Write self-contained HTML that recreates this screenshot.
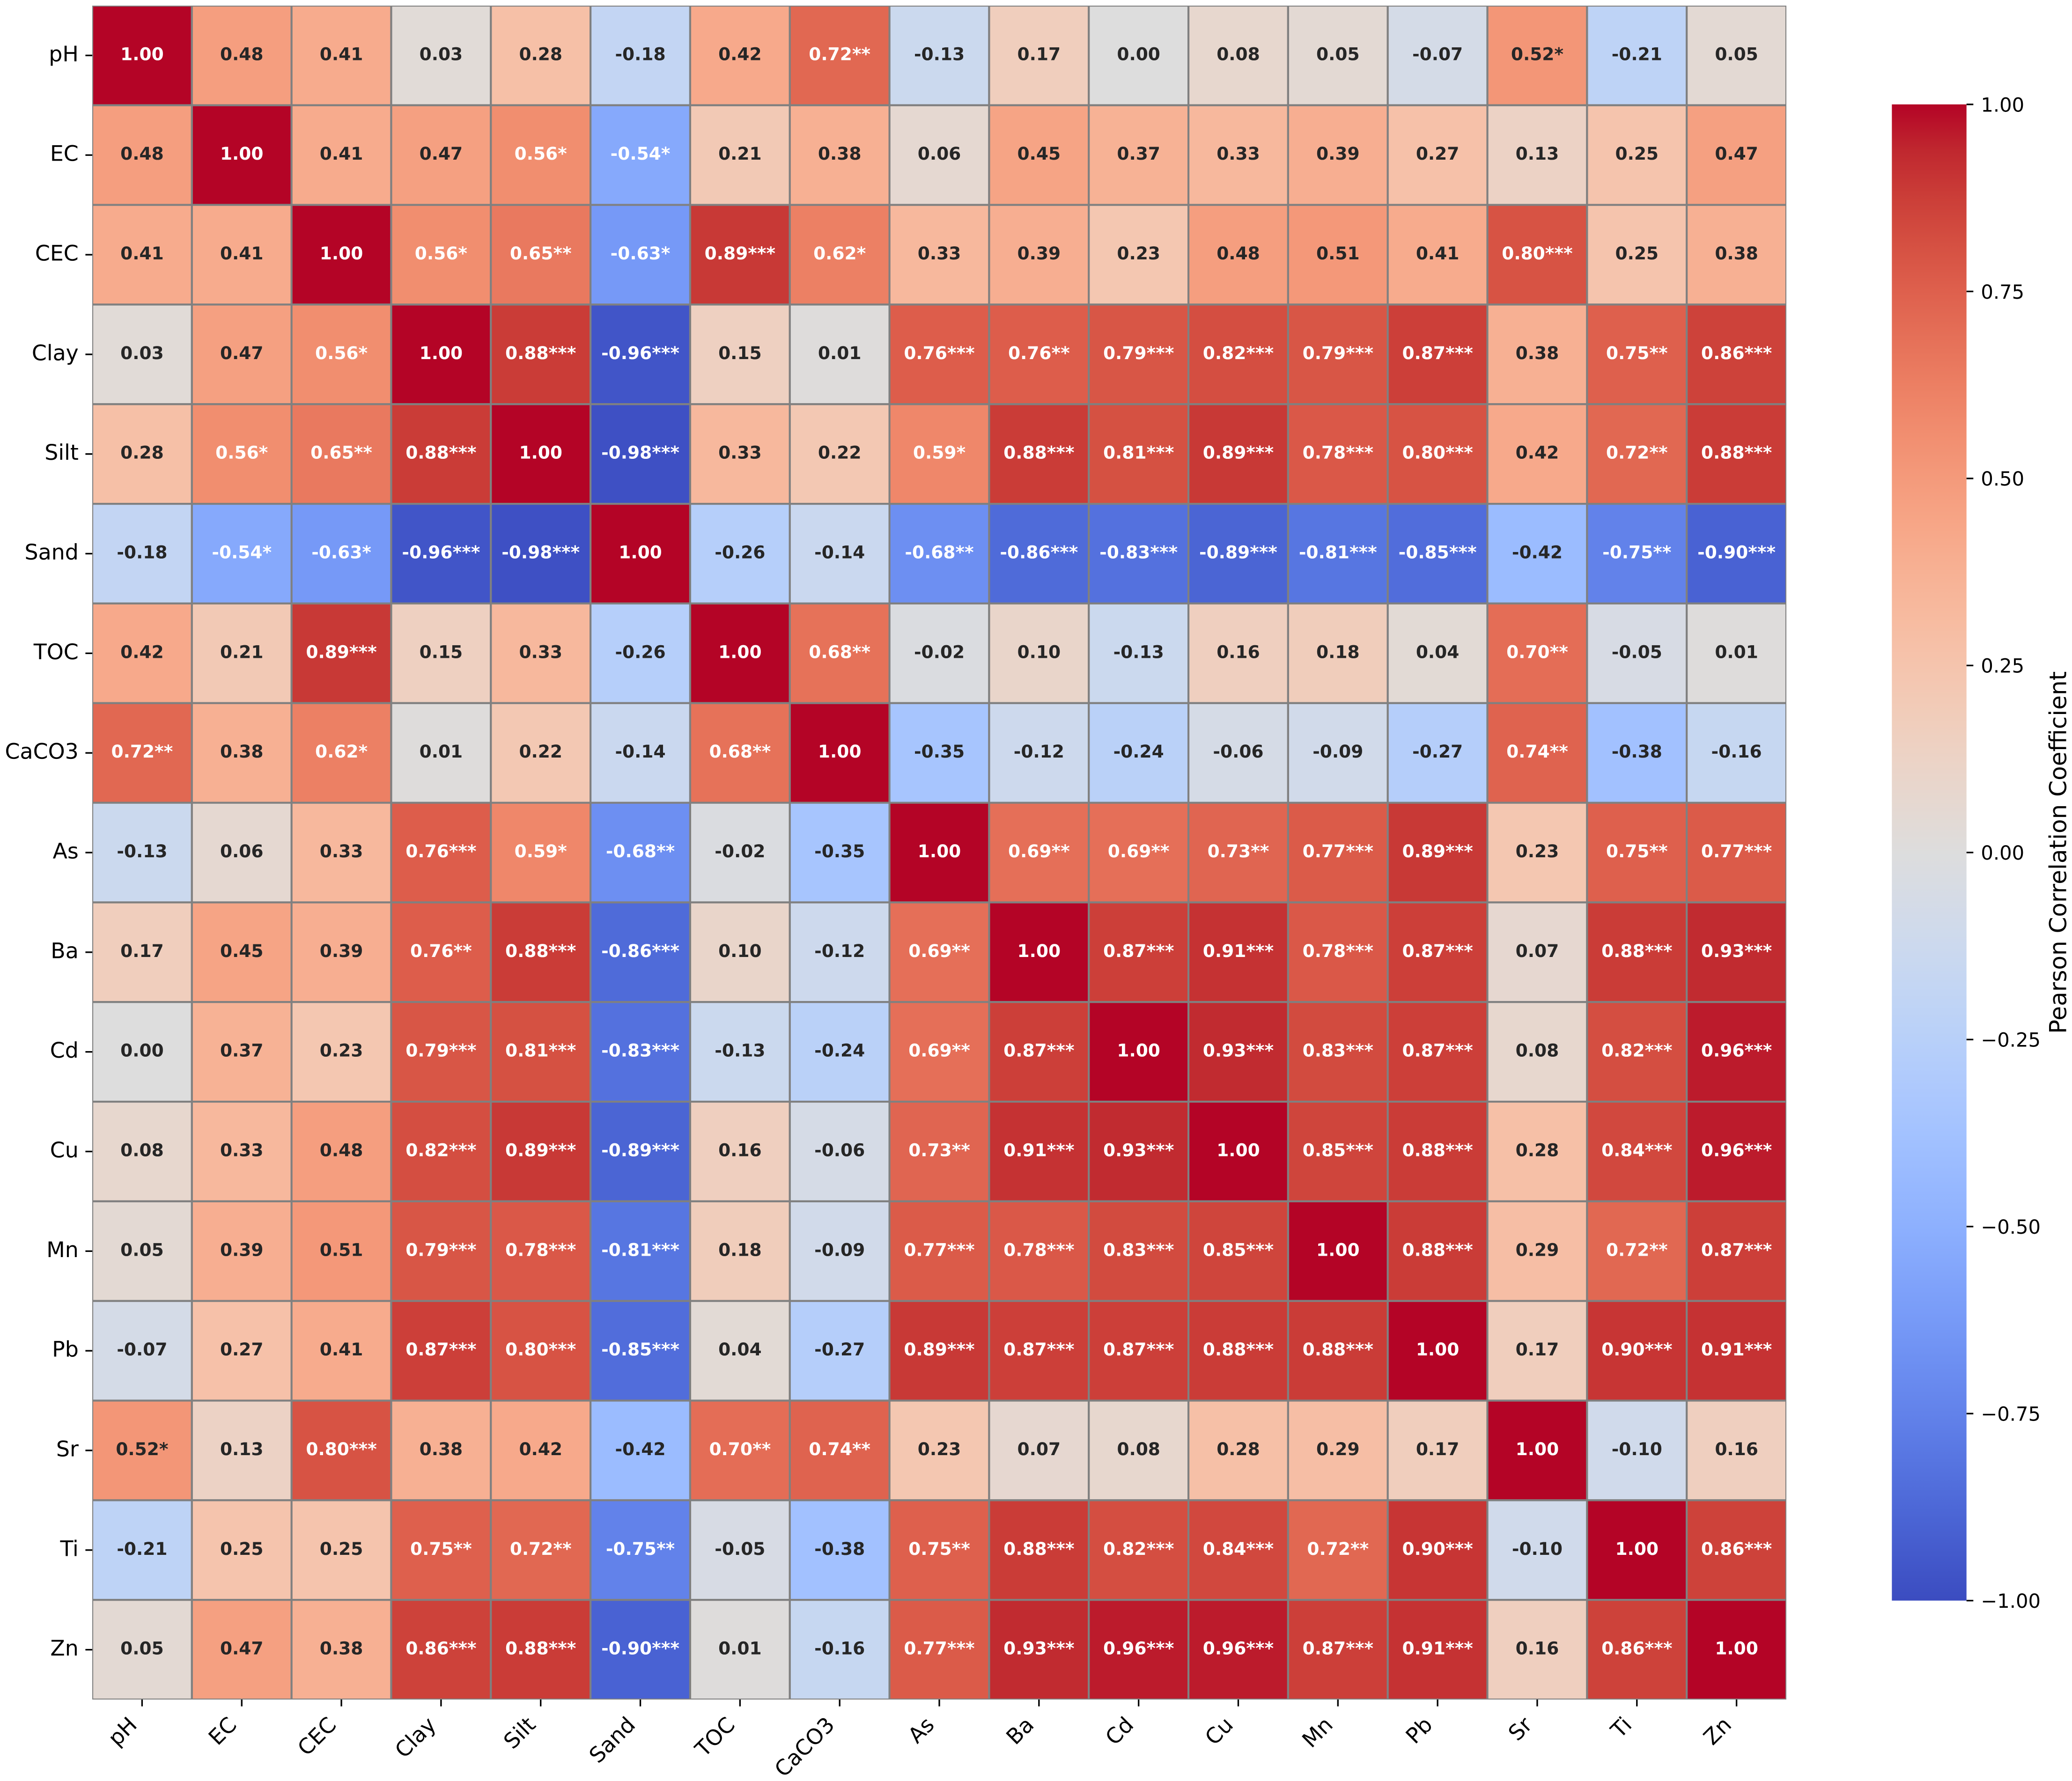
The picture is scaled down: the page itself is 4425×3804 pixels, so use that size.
<!DOCTYPE html>
<html lang="en">
<head>
<meta charset="utf-8">
<title>Pearson correlation heatmap</title>
<style>
html,body{margin:0;padding:0;background:#fff;}
svg{display:block;}
text{font-family:"DejaVu Sans","Liberation Sans",sans-serif;text-rendering:geometricPrecision;}
</style>
</head>
<body>
<svg id="chart" xmlns="http://www.w3.org/2000/svg" width="4425" height="3804" viewBox="0 0 4425 3804">
  <defs>
    <clipPath id="axes-clip"><rect x="197" y="12" width="3618" height="3618"></rect></clipPath>
    <linearGradient id="cbar-gradient" x1="0" y1="1" x2="0" y2="0"></linearGradient>
  </defs>
  <rect x="0" y="0" width="4425" height="3804" fill="#ffffff"></rect>
  <g id="cells" clip-path="url(#axes-clip)"></g>
  <g id="annotations"></g>
  <g id="x-axis"></g>
  <g id="y-axis"></g>
  <g id="colorbar"></g>
</svg>
<script>
// ---------- data ----------
const variables = ["pH","EC","CEC","Clay","Silt","Sand","TOC","CaCO3","As","Ba","Cd","Cu","Mn","Pb","Sr","Ti","Zn"];

const corrPH    = [1.00,0.48,0.41,0.03,0.28,-0.18,0.42,0.72,-0.13,0.17,0.00,0.08,0.05,-0.07,0.52,-0.21,0.05];
const corrEC    = [0.48,1.00,0.41,0.47,0.56,-0.54,0.21,0.38,0.06,0.45,0.37,0.33,0.39,0.27,0.13,0.25,0.47];
const corrCEC   = [0.41,0.41,1.00,0.56,0.65,-0.63,0.89,0.62,0.33,0.39,0.23,0.48,0.51,0.41,0.80,0.25,0.38];
const corrClay  = [0.03,0.47,0.56,1.00,0.88,-0.96,0.15,0.01,0.76,0.76,0.79,0.82,0.79,0.87,0.38,0.75,0.86];
const corrSilt  = [0.28,0.56,0.65,0.88,1.00,-0.98,0.33,0.22,0.59,0.88,0.81,0.89,0.78,0.80,0.42,0.72,0.88];
const corrSand  = [-0.18,-0.54,-0.63,-0.96,-0.98,1.00,-0.26,-0.14,-0.68,-0.86,-0.83,-0.89,-0.81,-0.85,-0.42,-0.75,-0.90];
const corrTOC   = [0.42,0.21,0.89,0.15,0.33,-0.26,1.00,0.68,-0.02,0.10,-0.13,0.16,0.18,0.04,0.70,-0.05,0.01];
const corrCaCO3 = [0.72,0.38,0.62,0.01,0.22,-0.14,0.68,1.00,-0.35,-0.12,-0.24,-0.06,-0.09,-0.27,0.74,-0.38,-0.16];
const corrAs    = [-0.13,0.06,0.33,0.76,0.59,-0.68,-0.02,-0.35,1.00,0.69,0.69,0.73,0.77,0.89,0.23,0.75,0.77];
const corrBa    = [0.17,0.45,0.39,0.76,0.88,-0.86,0.10,-0.12,0.69,1.00,0.87,0.91,0.78,0.87,0.07,0.88,0.93];
const corrCd    = [0.00,0.37,0.23,0.79,0.81,-0.83,-0.13,-0.24,0.69,0.87,1.00,0.93,0.83,0.87,0.08,0.82,0.96];
const corrCu    = [0.08,0.33,0.48,0.82,0.89,-0.89,0.16,-0.06,0.73,0.91,0.93,1.00,0.85,0.88,0.28,0.84,0.96];
const corrMn    = [0.05,0.39,0.51,0.79,0.78,-0.81,0.18,-0.09,0.77,0.78,0.83,0.85,1.00,0.88,0.29,0.72,0.87];
const corrPb    = [-0.07,0.27,0.41,0.87,0.80,-0.85,0.04,-0.27,0.89,0.87,0.87,0.88,0.88,1.00,0.17,0.90,0.91];
const corrSr    = [0.52,0.13,0.80,0.38,0.42,-0.42,0.70,0.74,0.23,0.07,0.08,0.28,0.29,0.17,1.00,-0.10,0.16];
const corrTi    = [-0.21,0.25,0.25,0.75,0.72,-0.75,-0.05,-0.38,0.75,0.88,0.82,0.84,0.72,0.90,-0.10,1.00,0.86];
const corrZn    = [0.05,0.47,0.38,0.86,0.88,-0.90,0.01,-0.16,0.77,0.93,0.96,0.96,0.87,0.91,0.16,0.86,1.00];

// number of significance stars per cell
const starsPH    = [0,0,0,0,0,0,0,2,0,0,0,0,0,0,1,0,0];
const starsEC    = [0,0,0,0,1,1,0,0,0,0,0,0,0,0,0,0,0];
const starsCEC   = [0,0,0,1,2,1,3,1,0,0,0,0,0,0,3,0,0];
const starsClay  = [0,0,1,0,3,3,0,0,3,2,3,3,3,3,0,2,3];
const starsSilt  = [0,1,2,3,0,3,0,0,1,3,3,3,3,3,0,2,3];
const starsSand  = [0,1,1,3,3,0,0,0,2,3,3,3,3,3,0,2,3];
const starsTOC   = [0,0,3,0,0,0,0,2,0,0,0,0,0,0,2,0,0];
const starsCaCO3 = [2,0,1,0,0,0,2,0,0,0,0,0,0,0,2,0,0];
const starsAs    = [0,0,0,3,1,2,0,0,0,2,2,2,3,3,0,2,3];
const starsBa    = [0,0,0,2,3,3,0,0,2,0,3,3,3,3,0,3,3];
const starsCd    = [0,0,0,3,3,3,0,0,2,3,0,3,3,3,0,3,3];
const starsCu    = [0,0,0,3,3,3,0,0,2,3,3,0,3,3,0,3,3];
const starsMn    = [0,0,0,3,3,3,0,0,3,3,3,3,0,3,0,2,3];
const starsPb    = [0,0,0,3,3,3,0,0,3,3,3,3,3,0,0,3,3];
const starsSr    = [1,0,3,0,0,0,2,2,0,0,0,0,0,0,0,0,0];
const starsTi    = [0,0,0,2,2,2,0,0,2,3,3,3,2,3,0,0,3];
const starsZn    = [0,0,0,3,3,3,0,0,3,3,3,3,3,3,0,3,0];

const corrRows  = [corrPH,corrEC,corrCEC,corrClay,corrSilt,corrSand,corrTOC,corrCaCO3,corrAs,corrBa,corrCd,corrCu,corrMn,corrPb,corrSr,corrTi,corrZn];
const starRows  = [starsPH,starsEC,starsCEC,starsClay,starsSilt,starsSand,starsTOC,starsCaCO3,starsAs,starsBa,starsCd,starsCu,starsMn,starsPb,starsSr,starsTi,starsZn];

const colorbarTicks = [-1,-0.75,-0.5,-0.25,0,0.25,0.5,0.75,1];
const colorbarTitle = "Pearson Correlation Coefficient";

// coolwarm colormap anchor colours
const coolwarm = [[59,76,192],[68,90,204],[77,104,215],[87,117,225],[98,130,234],[108,142,241],[119,154,247],[130,165,251],[141,176,254],[152,185,255],[163,194,255],[174,201,253],[184,208,249],[194,213,244],[204,217,238],[213,219,230],[221,221,221],[229,216,209],[236,211,198],[241,204,185],[245,196,173],[247,187,160],[247,177,148],[247,166,135],[244,154,123],[241,141,111],[236,127,99],[229,112,88],[222,96,77],[213,80,66],[203,62,56],[192,40,47],[180,4,38]];

// ---------- layout ----------
const PLOT = {left:197, top:12, width:3618, height:3618};
const CBAR = {left:4040.3, right:4199.7, top:223, bottom:3418.7};
const TICK_LEN = 14.6, TICK_W = 3.33, PAD = 14.6;
const NS = "http://www.w3.org/2000/svg";

const xBand = i => PLOT.left + i * PLOT.width / variables.length;
const yBand = i => PLOT.top + i * PLOT.height / variables.length;
const bandW = PLOT.width / variables.length;
const bandH = PLOT.height / variables.length;
const cbarY = v => CBAR.bottom - (v + 1) / 2 * (CBAR.bottom - CBAR.top);

function rgbFor(v){
  const t = Math.max(0, Math.min(1, (v + 1) / 2)) * (coolwarm.length - 1);
  const i = Math.min(coolwarm.length - 2, Math.floor(t));
  const f = t - i;
  return coolwarm[i].map((c, k) => Math.round(c + (coolwarm[i + 1][k] - c) * f));
}
function luminance(rgb){
  const lin = rgb.map(c => { c /= 255; return c <= 0.03928 ? c / 12.92 : Math.pow((c + 0.055) / 1.055, 2.4); });
  return 0.2126 * lin[0] + 0.7152 * lin[1] + 0.0722 * lin[2];
}
function make(tag, attrs, parent, text){
  const el = document.createElementNS(NS, tag);
  for (const k in attrs) el.setAttribute(k, attrs[k]);
  if (text !== undefined) el.textContent = text;
  parent.appendChild(el);
  return el;
}

const cellsG = document.getElementById("cells");
const annG = document.getElementById("annotations");
const xG = document.getElementById("x-axis");
const yG = document.getElementById("y-axis");
const cbG = document.getElementById("colorbar");

// ---------- cells and annotations ----------
corrRows.forEach((row, r) => {
  row.forEach((v, c) => {
    const rgb = rgbFor(v);
    const rect = make("rect", {x:xBand(c), y:yBand(r), width:bandW, height:bandH, fill:`rgb(${rgb.join(",")})`, stroke:"#808080", "stroke-width":4.17}, cellsG);
    
    
    const label = v.toFixed(2) + "*".repeat(starRows[r][c]);
    const txt = make("text", {x:xBand(c) + bandW / 2, y:yBand(r) + bandH / 2 + 10, "text-anchor":"middle", "font-size":37.5, "font-weight":"bold", fill:luminance(rgb) > 0.408 ? "#262626" : "#ffffff"}, annG, label);
    
    
  });
});

// ---------- axes ----------
const TICK_FONT = 45.83;
const LABEL_H = 0.968 * TICK_FONT, LABEL_D = 0.208 * TICK_FONT;
const RAD = Math.SQRT1_2;
variables.forEach((name, i) => {
  const tx = xBand(i) + bandW / 2;
  const bottom = PLOT.top + PLOT.height;
  const xt = make("line", {x1:tx, x2:tx, y1:bottom, y2:bottom + TICK_LEN, stroke:"#000", "stroke-width":TICK_W}, xG);
  
  
  const ax = tx - LABEL_D * RAD - 1.5;
  const ay = bottom + TICK_LEN + PAD + LABEL_H * RAD - LABEL_D * RAD + 3;
  const xl = make("text", {x:ax, y:ay, "text-anchor":"end", "font-size":TICK_FONT, fill:"#000", transform:`rotate(-45 ${ax} ${ay})`}, xG, name);
  
  

  const ty = yBand(i) + bandH / 2;
  const yt = make("line", {x1:PLOT.left - TICK_LEN, x2:PLOT.left, y1:ty, y2:ty, stroke:"#000", "stroke-width":TICK_W}, yG);
  
  
  const yl = make("text", {x:PLOT.left - TICK_LEN - PAD, y:ty + 12.5, "text-anchor":"end", "font-size":TICK_FONT, fill:"#000"}, yG, name);
  
  
});

// ---------- colorbar ----------
const grad = document.getElementById("cbar-gradient");
coolwarm.forEach((c, i) => {
  make("stop", {offset:i / (coolwarm.length - 1), "stop-color":`rgb(${c.join(",")})`}, grad);
});
const bar = make("rect", {x:CBAR.left, y:CBAR.top, width:CBAR.right - CBAR.left, height:CBAR.bottom - CBAR.top, fill:"url(#cbar-gradient)"}, cbG);


colorbarTicks.forEach(v => {
  const y = cbarY(v);
  const t = make("line", {x1:CBAR.right, x2:CBAR.right + TICK_LEN, y1:y, y2:y, stroke:"#000", "stroke-width":TICK_W}, cbG);
  
  
  const s = (v < 0 ? "\u2212" : "") + Math.abs(v).toFixed(2);
  const l = make("text", {x:CBAR.right + TICK_LEN + PAD + 1.5, y:y + 15.3, "font-size":41.67, fill:"#000"}, cbG, s);
  
  
});
const titleY = (CBAR.top + CBAR.bottom) / 2;
const title = make("text", {x:4412.5, y:titleY, "text-anchor":"middle", "font-size":50, fill:"#000", transform:`rotate(-90 4412.5 ${titleY})`}, cbG, colorbarTitle);


</script>
</body>
</html>
